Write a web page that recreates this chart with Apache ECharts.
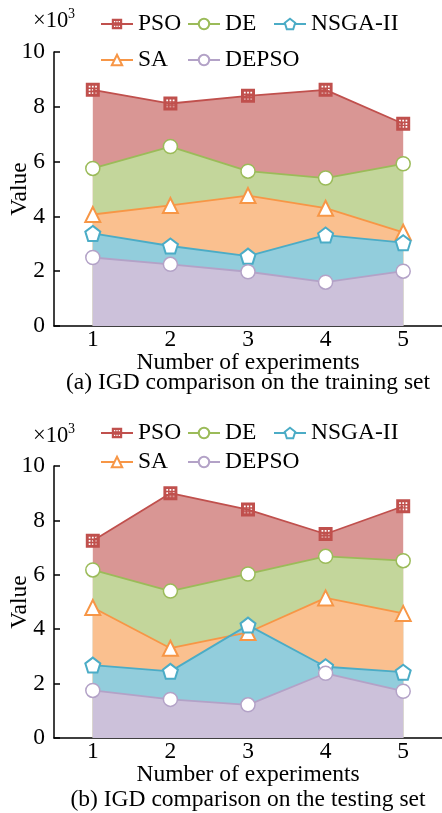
<!DOCTYPE html>
<html>
<head>
<meta charset="utf-8">
<script src="https://cdn.jsdelivr.net/npm/echarts@6/dist/echarts.min.js"></script>
<style>
  html, body { margin: 0; padding: 0; background: #fff; }
  #chart { width: 442px; height: 813px; }
</style>
</head>
<body>
<div id="chart"></div>
<script>
var experiments = ['1', '2', '3', '4', '5'];

// IGD on the training set (x10^3)
var trainPSO = [8.62, 8.12, 8.4, 8.62, 7.38];
var trainDE = [5.75, 6.55, 5.65, 5.4, 5.92];
var trainSA = [4.07, 4.4, 4.76, 4.3, 3.42];
var trainNSGA = [3.38, 2.92, 2.55, 3.32, 3.04];
var trainDEPSO = [2.5, 2.25, 1.98, 1.6, 2.0];

// IGD on the testing set (x10^3)
var testPSO = [7.25, 9.0, 8.4, 7.5, 8.52];
var testDE = [6.18, 5.4, 6.03, 6.68, 6.52];
var testSA = [4.8, 3.3, 3.88, 5.15, 4.58];
var testNSGA = [2.68, 2.45, 4.15, 2.62, 2.42];
var testDEPSO = [1.75, 1.42, 1.22, 2.38, 1.72];

var FONT = '"Liberation Serif", "Times New Roman", serif';

var chart = echarts.init(document.getElementById('chart'));

var psoPath = 'path://M0,0H12V12H0Z' +
  'M2.5,2.5V4H4V2.5Z M5.25,2.5V4H6.75V2.5Z M8,2.5V4H9.5V2.5Z' +
  'M2.5,5.25V6.75H4V5.25Z M5.25,5.25V6.75H6.75V5.25Z M8,5.25V6.75H9.5V5.25Z' +
  'M2.5,8V9.5H4V8Z M5.25,8V9.5H6.75V8Z M8,8V9.5H9.5V8Z';
var pentPath = 'path://M0,-10L9.51,-3.09L5.88,8.09L-5.88,8.09L-9.51,-3.09Z';

var styles = {
  'PSO': { line: '#c0504d', area: '#d99694', symbol: psoPath, size: 14, fill: '#c0504d', bw: 0 },
  'DE': { line: '#9bbb59', area: '#c3d69b', symbol: 'circle', size: 14, fill: '#fff', bw: 1.5 },
  'SA': { line: '#f79646', area: '#fac08f', symbol: 'triangle', size: 15, fill: '#fff', bw: 2 },
  'NSGA-II': { line: '#4bacc6', area: '#92cddc', symbol: pentPath, size: 15, fill: '#fff', bw: 2 },
  'DEPSO': { line: '#b3a2c7', area: '#ccc1da', symbol: 'circle', size: 14, fill: '#fff', bw: 1.5 }
};

var trainSets = [['PSO', trainPSO], ['DE', trainDE], ['SA', trainSA], ['NSGA-II', trainNSGA], ['DEPSO', trainDEPSO]];
var testSets = [['PSO', testPSO], ['DE', testDE], ['SA', testSA], ['NSGA-II', testNSGA], ['DEPSO', testDEPSO]];

var lineSeries = [];
var areaSeries = [];
[trainSets, testSets].forEach(function (sets, gi) {
  sets.forEach(function (s) {
    var st = styles[s[0]];
    lineSeries.push({
      name: s[0], type: 'line', xAxisIndex: gi, yAxisIndex: gi, z: 3,
      data: s[1], symbol: st.symbol, symbolSize: st.size,
      lineStyle: { color: st.line, width: 1.8 },
      itemStyle: { color: st.fill, borderColor: st.line, borderWidth: st.bw }
    });
    areaSeries.push({
      name: s[0], type: 'line', xAxisIndex: gi, yAxisIndex: gi, z: 1,
      data: s[1], symbol: 'none', silent: true,
      lineStyle: { width: 0 },
      areaStyle: { color: st.area, opacity: 1 }
    });
  });
});

function legendAt(name, left, top) {
  return {
    data: [name], left: left, top: top, padding: 0,
    itemWidth: 32, itemHeight: 13, selectedMode: false,
    textStyle: { fontSize: 23.5, fontFamily: FONT, color: '#000' }
  };
}

function xAxisFor(gi) {
  return {
    type: 'category', gridIndex: gi, data: experiments, boundaryGap: true,
    axisLine: { lineStyle: { color: '#000', width: 1.5 } },
    axisTick: { inside: true, length: 6, lineStyle: { color: '#000', width: 1.5 } },
    axisLabel: { fontSize: 23.5, fontFamily: FONT, color: '#000', margin: 2 },
    name: 'Number of experiments', nameLocation: 'middle', nameGap: 25, nameMoveOverlap: false,
    nameTextStyle: { fontSize: 23.5, fontFamily: FONT, color: '#000' }
  };
}

function yAxisFor(gi) {
  return {
    type: 'value', gridIndex: gi, min: 0, max: 10, interval: 2,
    axisLine: { show: true, lineStyle: { color: '#000', width: 1.5 } },
    axisTick: { show: true, inside: true, length: 6, lineStyle: { color: '#000', width: 1.5 } },
    splitLine: { show: false },
    axisLabel: { fontSize: 23.5, fontFamily: FONT, color: '#000', margin: 9 },
    name: 'Value', nameLocation: 'middle', nameGap: 22, nameMoveOverlap: false,
    nameTextStyle: { fontSize: 23.5, fontFamily: FONT, color: '#000' }
  };
}

function txt(text, x, y, size, align) {
  return {
    type: 'text', x: x, y: y,
    style: { text: text, font: size + 'px ' + FONT, fill: '#000', align: align || 'left', verticalAlign: 'middle' }
  };
}

var option = {
  animation: false,
  grid: [
    { left: 54, top: 52, width: 388, height: 274, outerBoundsMode: 'none', containLabel: false },
    { left: 54, top: 466, width: 388, height: 272, outerBoundsMode: 'none', containLabel: false }
  ],
  xAxis: [xAxisFor(0), xAxisFor(1)],
  yAxis: [yAxisFor(0), yAxisFor(1)],
  legend: [
    legendAt('PSO', 100, 12), legendAt('DE', 187, 12), legendAt('NSGA-II', 273, 12),
    legendAt('SA', 100, 48), legendAt('DEPSO', 187, 48),
    legendAt('PSO', 100, 421), legendAt('DE', 187, 421), legendAt('NSGA-II', 273, 421),
    legendAt('SA', 100, 450), legendAt('DEPSO', 187, 450)
  ],
  graphic: [
    txt('×10', 33, 21, 22.5), txt('3', 68, 14, 14),
    txt('×10', 33, 436, 22.5), txt('3', 68, 429, 14),
    txt('(a) IGD comparison on the training set', 248, 383, 23.5, 'center'),
    txt('(b) IGD comparison on the testing set', 248, 800, 23.5, 'center')
  ],
  series: lineSeries.concat(areaSeries)
};

chart.setOption(option);
</script>
</body>
</html>
